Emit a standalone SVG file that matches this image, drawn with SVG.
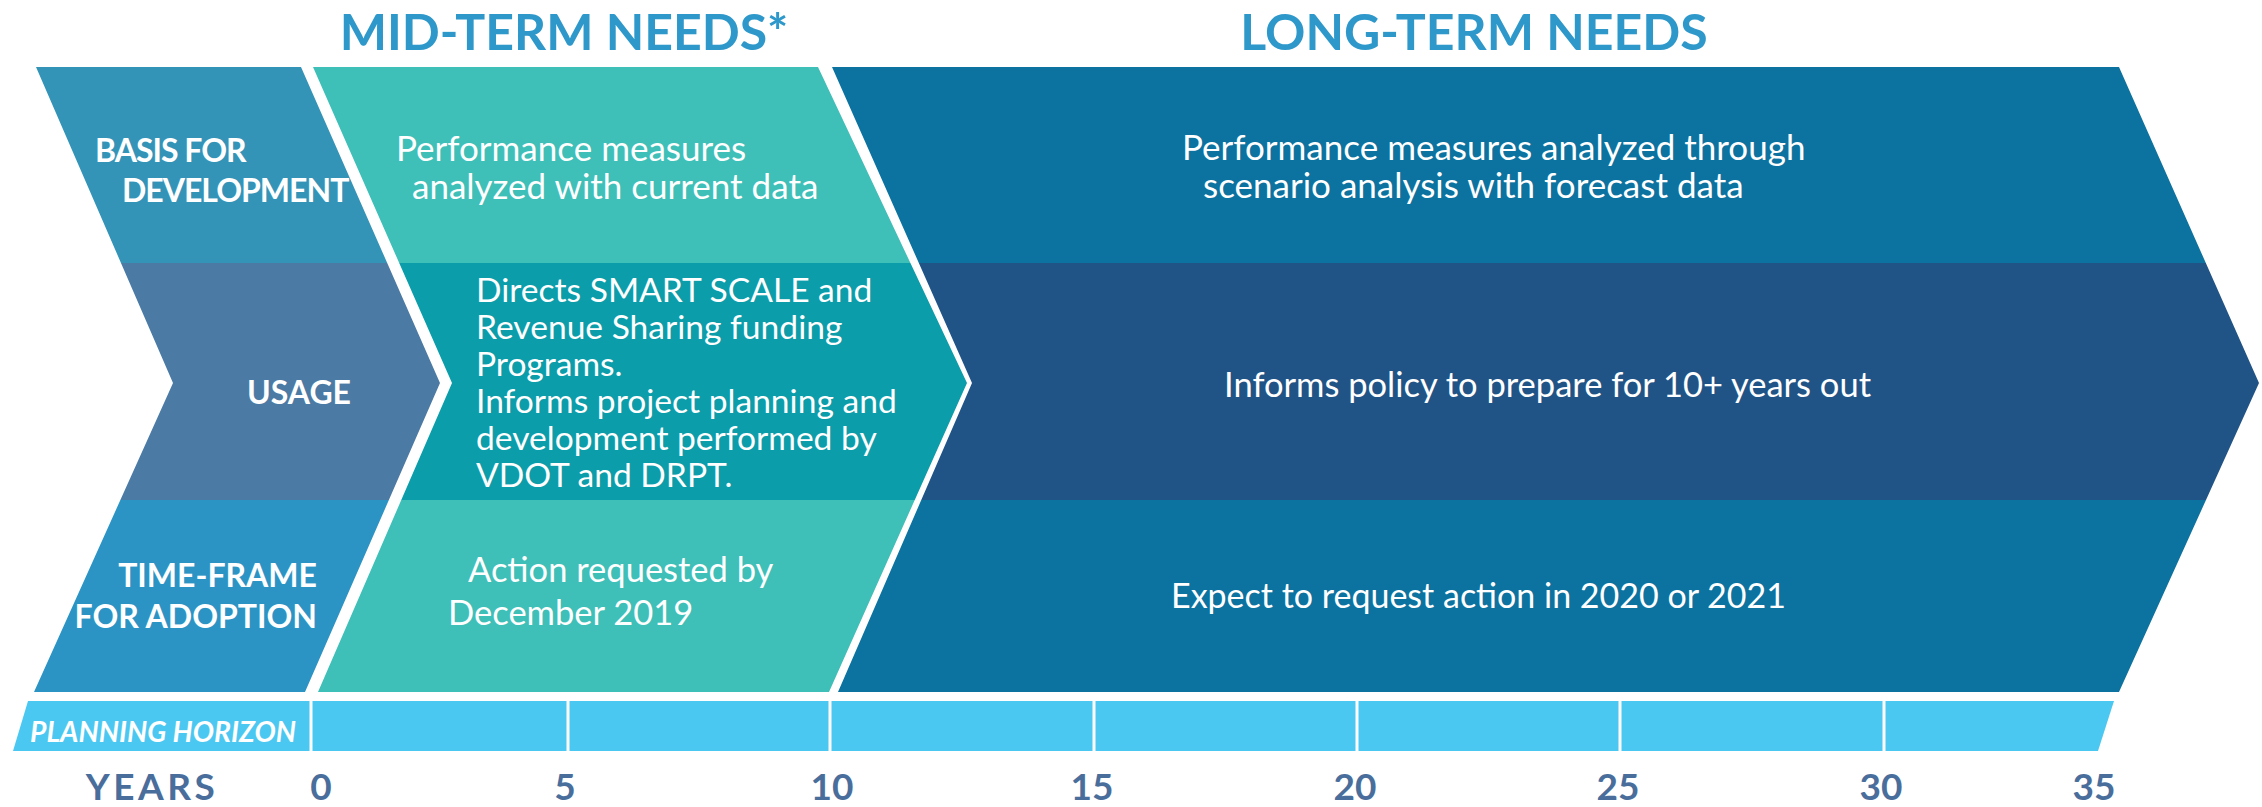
<svg xmlns="http://www.w3.org/2000/svg" width="2262" height="807" viewBox="0 0 2262 807">
<defs>
<clipPath id="c1"><polygon points="36,67 301,67 440,383 305,692 34,692 173,383"/></clipPath>
<clipPath id="c2"><polygon points="313,67 818,67 967,383 829,692 318,692 452,383"/></clipPath>
<clipPath id="c3"><polygon points="832,67 2119,67 2259,383 2119,692 838,692 972,383"/></clipPath>
<style>
.hd{font-family:Lato,"Liberation Sans",sans-serif;font-weight:700;font-size:50px;fill:#2E98CB}
.lb{font-family:Lato,"Liberation Sans",sans-serif;font-weight:700;font-size:32px;fill:#FFFFFF}
.tx{font-family:Lato,"Liberation Sans",sans-serif;font-weight:400;font-size:34.5px;fill:#FFFFFF}
.ph{font-family:Lato,"Liberation Sans",sans-serif;font-weight:700;font-style:italic;font-size:29px;fill:#FFFFFF}
.yr{font-family:Lato,"Liberation Sans",sans-serif;font-weight:700;font-size:37px;fill:#4A6E9C}
.bar{fill:#4BC8F2}
.div{stroke:#FFFFFF;stroke-width:3}
</style>
</defs>
<rect width="2262" height="807" fill="#FFFFFF"/>
<g id="headers">
<text class="hd" x="564" y="50" text-anchor="middle">MID-TERM NEEDS*</text>
<text class="hd" x="1474" y="50" text-anchor="middle">LONG-TERM NEEDS</text>
</g>
<g id="col-labels" clip-path="url(#c1)">
<rect x="0" y="60" width="460" height="203" fill="#3494B8"/>
<rect x="0" y="263" width="460" height="237" fill="#4B7AA5"/>
<rect x="0" y="500" width="460" height="200" fill="#2B94C5"/>
</g>
<g id="basis-label" style="letter-spacing:-1px"><text class="lb" x="95" y="162">BASIS FOR</text><text class="lb" x="122" y="202">DEVELOPMENT</text></g>
<g id="usage-label"><text class="lb" x="247" y="404">USAGE</text></g>
<g id="timeframe-label"><text class="lb" x="317" y="587" text-anchor="end">TIME-FRAME</text><text class="lb" x="317" y="628" text-anchor="end">FOR ADOPTION</text></g>
<g id="col-mid" clip-path="url(#c2)">
<rect x="300" y="60" width="700" height="203" fill="#3EBFB8"/>
<rect x="300" y="263" width="700" height="237" fill="#0B9DAA"/>
<rect x="300" y="500" width="700" height="200" fill="#3EBFB8"/>
</g>
<g id="mid-basis"><text class="tx" style="font-size:35px" x="396" y="161">Performance measures</text><text class="tx" style="font-size:35px" x="412" y="199">analyzed with current data</text></g>
<g id="mid-usage">
<text class="tx" style="font-size:33.6px" x="476" y="302">Directs SMART SCALE and</text>
<text class="tx" style="font-size:33.6px" x="476" y="339">Revenue Sharing funding</text>
<text class="tx" style="font-size:33.6px" x="476" y="376">Programs.</text>
<text class="tx" style="font-size:33.6px" x="476" y="413">Informs project planning and</text>
<text class="tx" style="font-size:33.6px" x="476" y="450">development performed by</text>
<text class="tx" style="font-size:33.6px" x="476" y="487">VDOT and DRPT.</text>
</g>
<g id="mid-timeframe"><text class="tx" x="468" y="582">Action requested by</text><text class="tx" x="448" y="625">December 2019</text></g>
<g id="col-long" clip-path="url(#c3)">
<rect x="820" y="60" width="1442" height="203" fill="#0C72A0"/>
<rect x="820" y="263" width="1442" height="237" fill="#215486"/>
<rect x="820" y="500" width="1442" height="200" fill="#0C72A0"/>
</g>
<g id="long-basis"><text class="tx" style="font-size:35px" x="1182" y="160">Performance measures analyzed through</text><text class="tx" style="font-size:35px" x="1203" y="198">scenario analysis with forecast data</text></g>
<g id="long-usage"><text class="tx" x="1224" y="397">Informs policy to prepare for 10+ years out</text></g>
<g id="long-timeframe"><text class="tx" style="font-size:34px" x="1171" y="608">Expect to request action in 2020 or 2021</text></g>
<g id="planning-horizon">
<polygon class="bar" points="28,701 2114,701 2098,751 13,751"/>
<line class="div" x1="311" y1="700" x2="311" y2="752"/>
<line class="div" x1="568" y1="700" x2="568" y2="752"/>
<line class="div" x1="830" y1="700" x2="830" y2="752"/>
<line class="div" x1="1094" y1="700" x2="1094" y2="752"/>
<line class="div" x1="1357" y1="700" x2="1357" y2="752"/>
<line class="div" x1="1620" y1="700" x2="1620" y2="752"/>
<line class="div" x1="1884" y1="700" x2="1884" y2="752"/>
<text class="ph" x="30" y="742" textLength="266" lengthAdjust="spacingAndGlyphs">PLANNING HORIZON</text>
</g>
<g id="years">
<text class="yr" x="152" y="800" text-anchor="middle" style="letter-spacing:3.5px">YEARS</text>
<text class="yr" x="321" y="800" text-anchor="middle">0</text>
<text class="yr" x="565" y="800" text-anchor="middle">5</text>
<text class="yr" x="832" y="800" text-anchor="middle">10</text>
<text class="yr" x="1092" y="800" text-anchor="middle">15</text>
<text class="yr" x="1355" y="800" text-anchor="middle">20</text>
<text class="yr" x="1618" y="800" text-anchor="middle">25</text>
<text class="yr" x="1881" y="800" text-anchor="middle">30</text>
<text class="yr" x="2094" y="800" text-anchor="middle">35</text>
</g>
<g id="connectors"/>
</svg>
